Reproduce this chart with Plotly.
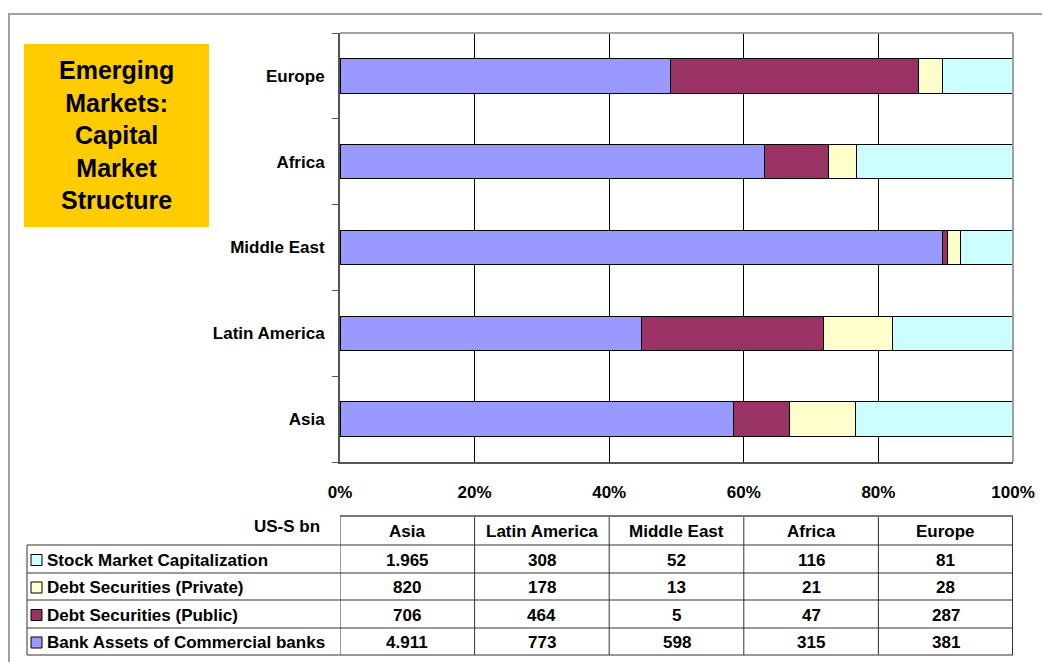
import plotly.graph_objects as go

regions = ["Asia", "Latin America", "Middle East", "Africa", "Europe"]
series_names = ["Bank Assets of Commercial banks", "Debt Securities (Public)",
                "Debt Securities (Private)", "Stock Market Capitalization"]
bank_assets = [4911, 773, 598, 315, 381]
debt_public = [706, 464, 5, 47, 287]
debt_private = [820, 178, 13, 21, 28]
stock_cap = [1965, 308, 52, 116, 81]
x_ticks = [0, 0.2, 0.4, 0.6, 0.8, 1.0]

series_values = [bank_assets, debt_public, debt_private, stock_cap]
colors = ["#9999FF", "#993366", "#FFFFCC", "#CCFFFF"]
totals = [sum(v) for v in zip(*series_values)]

FONT = "Liberation Sans, Arial, sans-serif"
W, H = 1042, 654
OFF = 8  # page body margin
ML, MR, MT, MB = 332, 37, 25, 200
PW = W - ML - MR
PH = H - MT - MB


def px2x(px):
    return (px - OFF - ML) / PW


def px2y(py):
    return (H - MB - (py - OFF)) / PH


fig = go.Figure()
for name, vals, col in zip(series_names, series_values, colors):
    fig.add_trace(go.Bar(
        y=regions, x=[v / t for v, t in zip(vals, totals)], name=name,
        orientation="h", marker=dict(color=col, line=dict(color="black", width=1)),
        hoverinfo="name+x",
    ))

shapes = []
annotations = []

# outer frame (top and left edges only; the rest lies outside the page)
shapes.append(dict(type="line", xref="paper", yref="paper", x0=px2x(8), x1=px2x(1050),
                   y0=px2y(14), y1=px2y(14), line=dict(color="#A0A0A0", width=2),
                   layer="below"))
shapes.append(dict(type="line", xref="paper", yref="paper", x0=px2x(9), x1=px2x(9),
                   y0=px2y(14), y1=px2y(662), line=dict(color="#A0A0A0", width=2),
                   layer="below"))
# title box
shapes.append(dict(type="rect", xref="paper", yref="paper", x0=px2x(24), x1=px2x(209),
                   y0=px2y(227), y1=px2y(44), line=dict(width=0), fillcolor="#FFCC00"))
annotations.append(dict(xref="paper", yref="paper", x=px2x(116), y=px2y(135),
                        text="<b>Emerging<br>Markets:<br>Capital<br>Market<br>Structure</b>",
                        showarrow=False, align="center", xanchor="center", yanchor="middle",
                        font=dict(family=FONT, size=25, color="black")))

# plot-area border (top and right), gray
shapes.append(dict(type="line", xref="paper", yref="paper", x0=0, x1=1, y0=1, y1=1,
                   line=dict(color="#A0A0A0", width=2)))
shapes.append(dict(type="line", xref="paper", yref="paper", x0=1, x1=1, y0=0, y1=1,
                   line=dict(color="#A0A0A0", width=2)))

# table geometry
row_tops = [516, 545, 573, 600, 628, 655]
line_col = "#333333"
col_edges = [0, 0.2, 0.4, 0.6, 0.8, 1.0]
for ce in col_edges:
    shapes.append(dict(type="line", xref="x", yref="paper", x0=ce, x1=ce,
                       y0=px2y(row_tops[0]), y1=px2y(row_tops[-1]),
                       line=dict(color=line_col, width=2 if ce == 1.0 else 1)))
shapes.append(dict(type="line", xref="paper", yref="paper", x0=px2x(27), x1=px2x(27),
                   y0=px2y(row_tops[1]), y1=px2y(row_tops[-1]),
                   line=dict(color=line_col, width=1)))
shapes.append(dict(type="line", xref="x", yref="paper", x0=0, x1=1,
                   y0=px2y(row_tops[0]), y1=px2y(row_tops[0]),
                   line=dict(color="#777777", width=2)))
for rt in row_tops[1:]:
    shapes.append(dict(type="line", xref="paper", yref="paper", x0=px2x(27), x1=1,
                       y0=px2y(rt), y1=px2y(rt), line=dict(color=line_col, width=1)))

tfont = dict(family=FONT, size=17, color="black")
annotations.append(dict(xref="paper", yref="paper", x=px2x(322), y=px2y(526),
                        text="<b>US-S bn</b>", showarrow=False, xanchor="right",
                        yanchor="middle", font=tfont))
for i, reg in enumerate(regions):
    annotations.append(dict(xref="x", yref="paper", x=0.1 + 0.2 * i,
                            y=px2y((row_tops[0] + row_tops[1]) / 2 + 1),
                            text=f"<b>{reg}</b>", showarrow=False, xanchor="center",
                            yanchor="middle", font=tfont))

table_rows = list(zip(series_names, series_values, colors))[::-1]
for r, (name, vals, col) in enumerate(table_rows):
    yc = (row_tops[r + 1] + row_tops[r + 2]) / 2 + 1
    shapes.append(dict(type="rect", xref="paper", yref="paper", x0=px2x(31), x1=px2x(42),
                       y0=px2y(yc + 5.5), y1=px2y(yc - 5.5), fillcolor=col,
                       line=dict(color="black", width=1)))
    annotations.append(dict(xref="paper", yref="paper", x=px2x(45), y=px2y(yc),
                            text=f"<b>{name}</b>", showarrow=False, xanchor="left",
                            yanchor="middle", font=tfont))
    for i, v in enumerate(vals):
        annotations.append(dict(xref="x", yref="paper", x=0.1 + 0.2 * i, y=px2y(yc),
                                text="<b>" + f"{v:,}".replace(",", ".") + "</b>",
                                showarrow=False, xanchor="center", yanchor="middle",
                                font=tfont))

fig.update_layout(
    width=W, height=H, margin=dict(l=ML, r=MR, t=MT, b=MB),
    barmode="stack", bargap=0.6, showlegend=False,
    paper_bgcolor="white", plot_bgcolor="white",
    font=dict(family=FONT, size=17, color="black"),
    shapes=shapes, annotations=annotations,
    xaxis=dict(range=[0, 1], tickvals=x_ticks, tickformat=".0%", showgrid=True,
               gridcolor="black", gridwidth=1, zeroline=False, showline=True,
               linecolor="#555555", linewidth=2, ticks="", ticklabelstandoff=14,
               tickfont=dict(family=FONT, size=17, color="black", weight="bold"),
               fixedrange=True),
    yaxis=dict(type="category", categoryorder="array", categoryarray=regions,
               tickson="boundaries", ticks="outside", ticklen=6, tickcolor="#555555",
               showline=True, linecolor="#555555", linewidth=2, showgrid=False,
               ticklabelstandoff=10,
               tickfont=dict(family=FONT, size=17, color="black", weight="bold"),
               fixedrange=True),
)

fig.write_html("out.html")
